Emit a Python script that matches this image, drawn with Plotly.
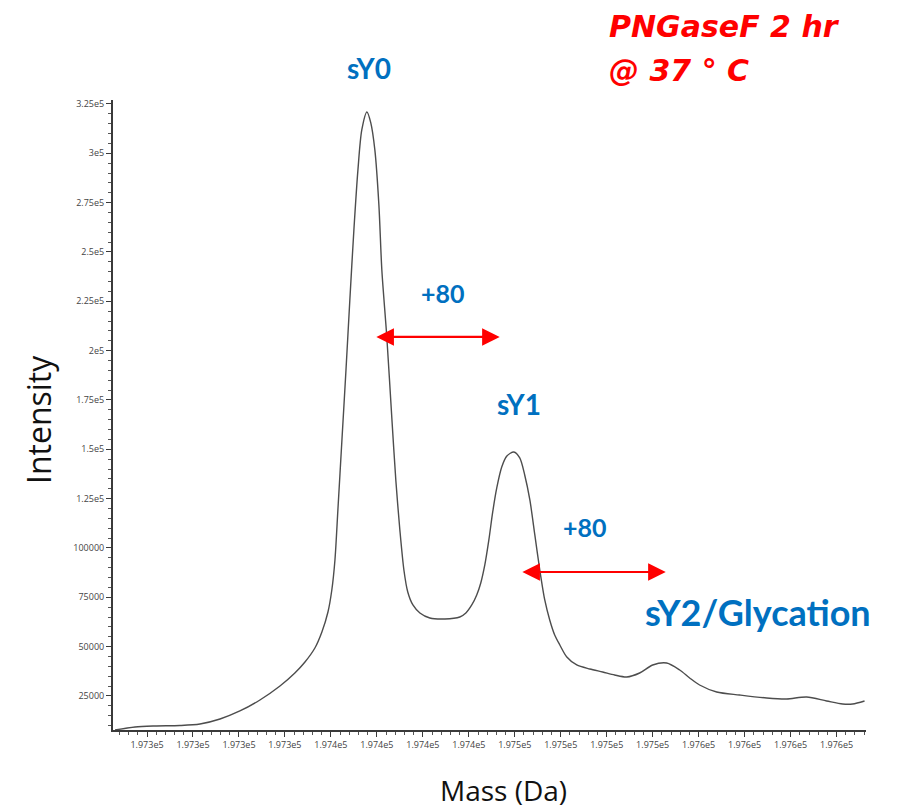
import plotly.graph_objects as go

# ---- data ----
mass_da = [197242.6, 197253.5, 197264.3, 197277.9, 197288.8, 197299.7, 197310.5, 197321.4,
           197332.3, 197340.4, 197345.9, 197351.3, 197355.1, 197358.4, 197360.5, 197362.2,
           197363.8, 197366.0, 197368.2, 197370.3, 197372.5, 197374.7, 197376.8, 197379.6,
           197381.7, 197383.9, 197386.1, 197387.7, 197390.4, 197393.2, 197395.3, 197397.5,
           197399.7, 197401.8, 197404.6, 197408.4, 197413.8, 197422.0, 197430.1, 197433.4,
           197436.6, 197439.3, 197441.5, 197443.7, 197445.9, 197448.0, 197450.2, 197452.9,
           197455.7, 197459.5, 197462.7, 197465.4, 197468.2, 197470.9, 197473.6, 197476.3,
           197479.0, 197481.7, 197484.5, 197488.3, 197493.7, 197500.8, 197507.8, 197514.3,
           197520.9, 197527.9, 197535.0, 197542.6, 197549.7, 197555.1, 197560.5, 197569.8,
           197582.3, 197597.0, 197607.8, 197618.7, 197629.6, 197638.3, 197643.7, 197650.2]
intensity = [7754, 9274, 9781, 10035, 10795, 13329, 17383, 22958,
             30053, 36642, 42216, 49312, 57420, 67556, 78706, 93910,
             119250, 154726, 190202, 225678, 261154, 291562, 311834, 320956,
             315382, 301698, 273824, 240882, 206926, 164862, 134454, 109114,
             88842, 77692, 71104, 67050, 64516, 64009, 65022, 67050,
             71104, 76172, 82254, 91376, 104046, 118236, 130400, 141042,
             146617, 148644, 145604, 136988, 124318, 106580, 88842, 73638,
             63502, 55900, 50832, 44750, 40696, 38669, 37148, 35628,
             34614, 36642, 40696, 41710, 38162, 34108, 30560, 27012,
             25492, 23972, 23465, 24478, 22451, 20931, 20931, 22451]

x_tick_values = [197260 + 25 * k for k in range(16)]
x_tick_labels = ["1.973e5"] * 4 + ["1.974e5"] * 4 + ["1.975e5"] * 4 + ["1.976e5"] * 4
y_tick_values = [25000, 50000, 75000, 100000, 125000, 150000, 175000, 200000,
                 225000, 250000, 275000, 300000, 325000]
y_tick_labels = ["25000", "50000", "75000", "100000", "1.25e5", "1.5e5", "1.75e5", "2e5",
                 "2.25e5", "2.5e5", "2.75e5", "3e5", "3.25e5"]

peak_labels = ["sY0", "sY1", "sY2/Glycation"]
shift_label = "+80"

BLUE = "#0070C0"
RED = "#FF0000"

fig = go.Figure()
fig.add_trace(go.Scatter(
    x=mass_da, y=intensity, mode="lines",
    line=dict(color="#4d4d4d", width=1.4, shape="spline", smoothing=0.8),
    hoverinfo="skip", showlegend=False))

tickfont = dict(family="Open Sans", size=9, color="#444444")
fig.update_xaxes(
    range=[197241.5, 197651], showline=True, linecolor="#3a3a3a", linewidth=2,
    showgrid=False, zeroline=False, ticks="outside", ticklen=5, tickcolor="#3a3a3a",
    tickvals=x_tick_values, ticktext=x_tick_labels, tickfont=tickfont,
    minor=dict(ticks="outside", ticklen=3, tickcolor="#555555", dtick=5, tick0=197260))
fig.update_yaxes(
    range=[7750, 327000], showline=True, linecolor="#3a3a3a", linewidth=2,
    showgrid=False, zeroline=False, ticks="outside", ticklen=5, tickcolor="#3a3a3a",
    tickvals=y_tick_values, ticktext=y_tick_labels, tickfont=tickfont,
    minor=dict(ticks="outside", ticklen=3, tickcolor="#555555", dtick=5000, tick0=0))


def label(text, x, y, size, color, family="Lato", xanchor="center", angle=0):
    return dict(text=text, xref="paper", yref="paper", x=x, y=y, xanchor=xanchor,
                yanchor="middle", textangle=angle, showarrow=False,
                font=dict(family=family, size=size, color=color))


ann = [
    label(f"<b>{peak_labels[0]}</b>", 0.340, 1.0508, 28, BLUE),
    label(f"<b>{peak_labels[1]}</b>", 0.539, 0.5175, 28, BLUE),
    label(f"<b>{peak_labels[2]}</b>", 0.856, 0.1873, 36, BLUE),
    label(f"<b>{shift_label}</b>", 0.438, 0.6937, 25, BLUE),
    label(f"<b>{shift_label}</b>", 0.627, 0.3222, 25, BLUE),
    label("<b><i>PNGaseF 2 hr</i></b>", 0.656, 1.1159, 30, RED, family="DejaVu Sans", xanchor="left"),
    label("<b><i>@ 37 ° C</i></b>", 0.656, 1.0476, 30, RED, family="DejaVu Sans", xanchor="left"),
    label("Mass (Da)", 0.518, -0.0952, 28, "#111111", family="Open Sans"),
    label("Intensity", -0.0996, 0.492, 32, "#111111", family="Open Sans", angle=-90),
]
# double-headed red arrows (+80 Da shifts)
for (x0, x1, yy) in [(197383.9, 197451.8, 206926), (197463.3, 197542.1, 87828)]:
    ann.append(dict(text="", xref="x", yref="y", axref="x", ayref="y",
                    x=x1, y=yy, ax=x0, ay=yy, showarrow=True,
                    arrowhead=2, startarrowhead=2, arrowside="end+start",
                    arrowsize=1.6, startarrowsize=1.6, arrowwidth=2.2, arrowcolor=RED))

fig.update_layout(
    width=901, height=810, margin=dict(l=113, r=35, t=100, b=80),
    paper_bgcolor="white", plot_bgcolor="white", annotations=ann)

fig.write_html("out.html")
